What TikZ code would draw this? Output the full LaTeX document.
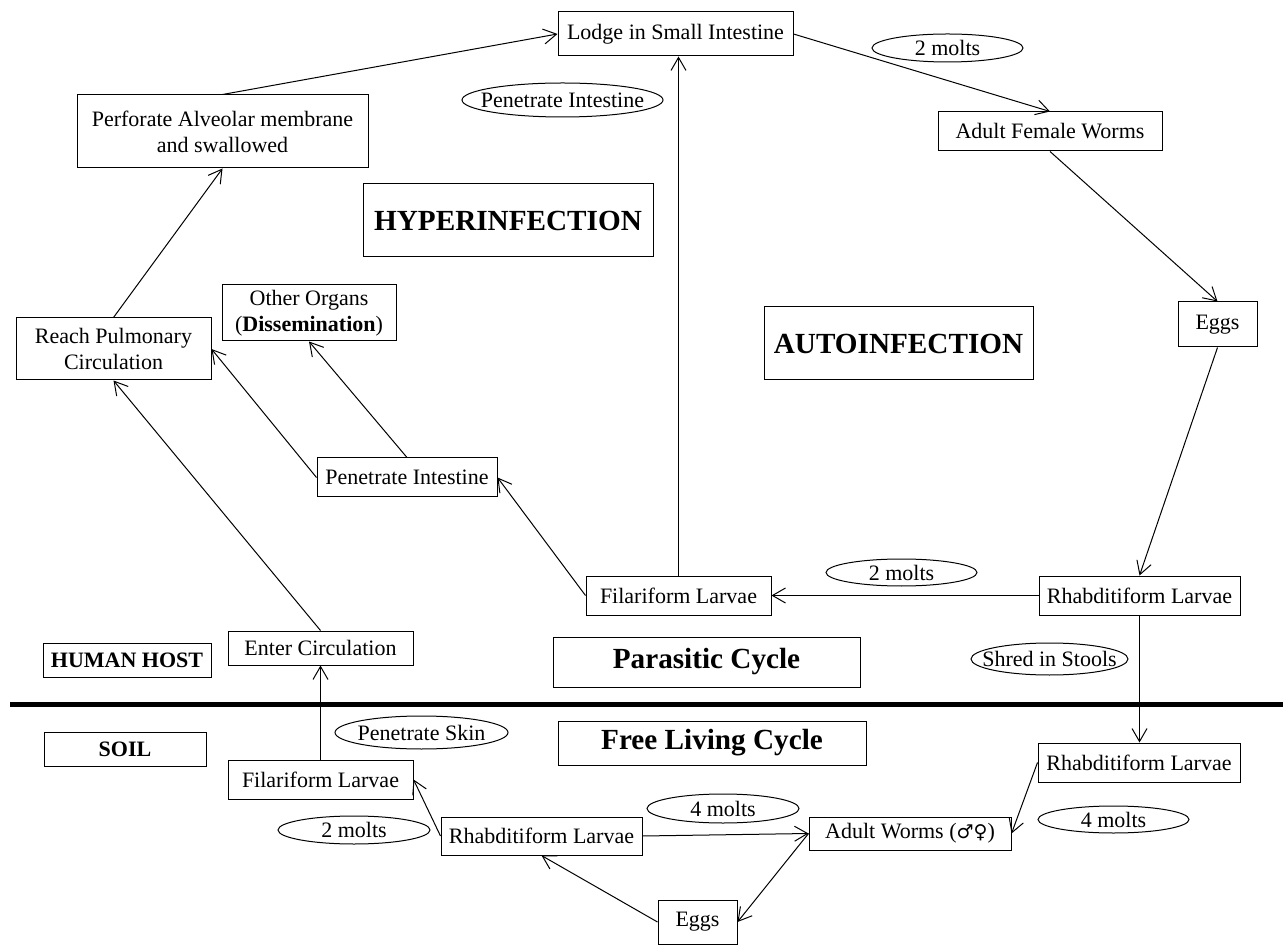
\documentclass[tikz,border=0pt]{standalone}
\usepackage{fontspec}
\setmainfont{Liberation Serif}
\newfontfamily\symfont{DejaVu Sans}
\usetikzlibrary{arrows.meta,shapes.geometric}
\tikzset{
  sz/.style 2 args={minimum width=#1*0.5pt, minimum height=#2*0.5pt},
  box/.style={draw, line width=0.5pt, rectangle, inner sep=0pt, align=center},
  ell/.style={draw, line width=0.5pt, ellipse, inner sep=0pt},
  title/.style={font=\bfseries\fontsize{14.6}{17}\selectfont},
  bsmall/.style={font=\bfseries\fontsize{11}{13}\selectfont},
  arr/.style={-{Straight Barb[length=6.5pt,width=7.5pt]}, line width=0.5pt},
  sep/.style={line width=2.4pt}
}
\begin{document}
\begin{tikzpicture}[x=0.5pt,y=-0.5pt,font=\fontsize{11}{13}\selectfont]
\fill[white] (0,0) rectangle (1283,945);
\useasboundingbox (0,0) rectangle (1283,945);

% boxes
\node[box, sz={235}{44}] (lodge) at (675.5,34) {Lodge in Small Intestine};
\node[box, sz={291}{73}] (perf) at (222.5,131.5) {Perforate Alveolar membrane\\and swallowed};
\node[box, sz={224}{39}] (afw) at (1050,131.5) {Adult Female Worms};
\node[box, sz={79}{45}] (eggsA) at (1217.5,324.5) {Eggs};
\node[box, title, sz={290}{73}] (hyper) at (508,220.5) {HYPERINFECTION};
\node[box, title, sz={269}{73}] (auto) at (898.5,343.5) {AUTOINFECTION};
\node[box, sz={174}{56}] (other) at (309,313) {Other Organs\\(\textbf{Dissemination})};
\node[box, sz={195}{62}] (reach) at (113.5,349) {Reach Pulmonary\\Circulation};
\node[box, sz={180}{39}] (penI) at (407,477.5) {Penetrate Intestine};
\node[box, sz={185}{34}] (enter) at (320.5,648) {Enter Circulation};
\node[box, bsmall, sz={168}{34}] (human) at (127,660) {HUMAN HOST};
\node[box, sz={185}{39}] (filA) at (678.5,595.5) {Filariform Larvae};
\node[box, sz={201}{39}] (rhabA) at (1139.5,595.5) {Rhabditiform Larvae};
\node[box, title, sz={307}{50}] (para) at (706.5,662) {Parasitic Cycle};
\node[box, bsmall, sz={162}{34}] (soil) at (125,749) {SOIL};
\node[box, sz={185}{39}] (filB) at (320.5,779.5) {Filariform Larvae};
\node[box, sz={201}{38}] (rhabC) at (541.5,836) {Rhabditiform Larvae};
\node[box, title, sz={308}{44}] (free) at (712,743) {Free Living Cycle};
\node[box, sz={202}{39}] (rhabB) at (1139,762.5) {Rhabditiform Larvae};
\node[box, sz={202}{33}] (aw) at (910,833.5) {Adult Worms ({\symfont\fontsize{9.5}{11}\selectfont ♂♀})};
\node[box, sz={79}{44}] (eggsB) at (697.5,922) {Eggs};

% ellipse labels
\node[ell, sz={151}{28}, label=center:{2 molts}] (moltA) at (947.5,48) {};
\node[ell, sz={201}{34}, label=center:{Penetrate Intestine}] (penE) at (562.5,100) {};
\node[ell, sz={151}{27}, label=center:{2 molts}] (moltB) at (901.5,572.5) {};
\node[ell, sz={157}{32}, label=center:{Shred in Stools}] (shred) at (1049.5,659) {};
\node[ell, sz={173}{33}, label=center:{Penetrate Skin}] (skin) at (421.5,732.5) {};
\node[ell, sz={152}{28}, label=center:{2 molts}] (moltC) at (354,830) {};
\node[ell, sz={152}{29}, label=center:{4 molts}] (moltD) at (723,808.5) {};
\node[ell, sz={151}{27}, label=center:{4 molts}] (moltE) at (1113.5,819.5) {};

% separator
\coordinate (sepL) at (10,704.5);
\coordinate (sepR) at (1283,704.5);
\draw[sep] (sepL) -- (sepR);

% connectors
\draw[arr] (perf.north) -- (lodge.west);
\draw[arr] (lodge.east) -- (afw.north);
\draw[arr] (afw.south) -- (eggsA.north);
\draw[arr] (eggsA.south) -- (rhabA.north);
\draw[arr] (rhabA.west) -- (filA.east);
\draw[arr] (filA.north) -- (filA.north |- lodge.south);
\draw[arr] (filA.west) -- (penI.east);
\draw[arr] (penI.west) -- (reach.east);
\draw[arr] (penI.north) -- (other.south);
\draw[arr] (enter.north) -- (reach.south);
\draw[arr] (reach.north) -- (perf.south);
\draw[arr] (rhabA.south) -- (rhabA.south |- rhabB.north);
\draw[arr] (rhabB.west) -- (aw.east);
\draw[arr] (rhabC.east) -- (aw.west);
\draw[arr] (aw.west) -- (eggsB.east);
\draw[arr] (eggsB.west) -- (rhabC.south);
\draw[arr] (rhabC.west) -- (filB.east);
\draw[arr] (filB.north) -- (enter.south);
\end{tikzpicture}
\end{document}
